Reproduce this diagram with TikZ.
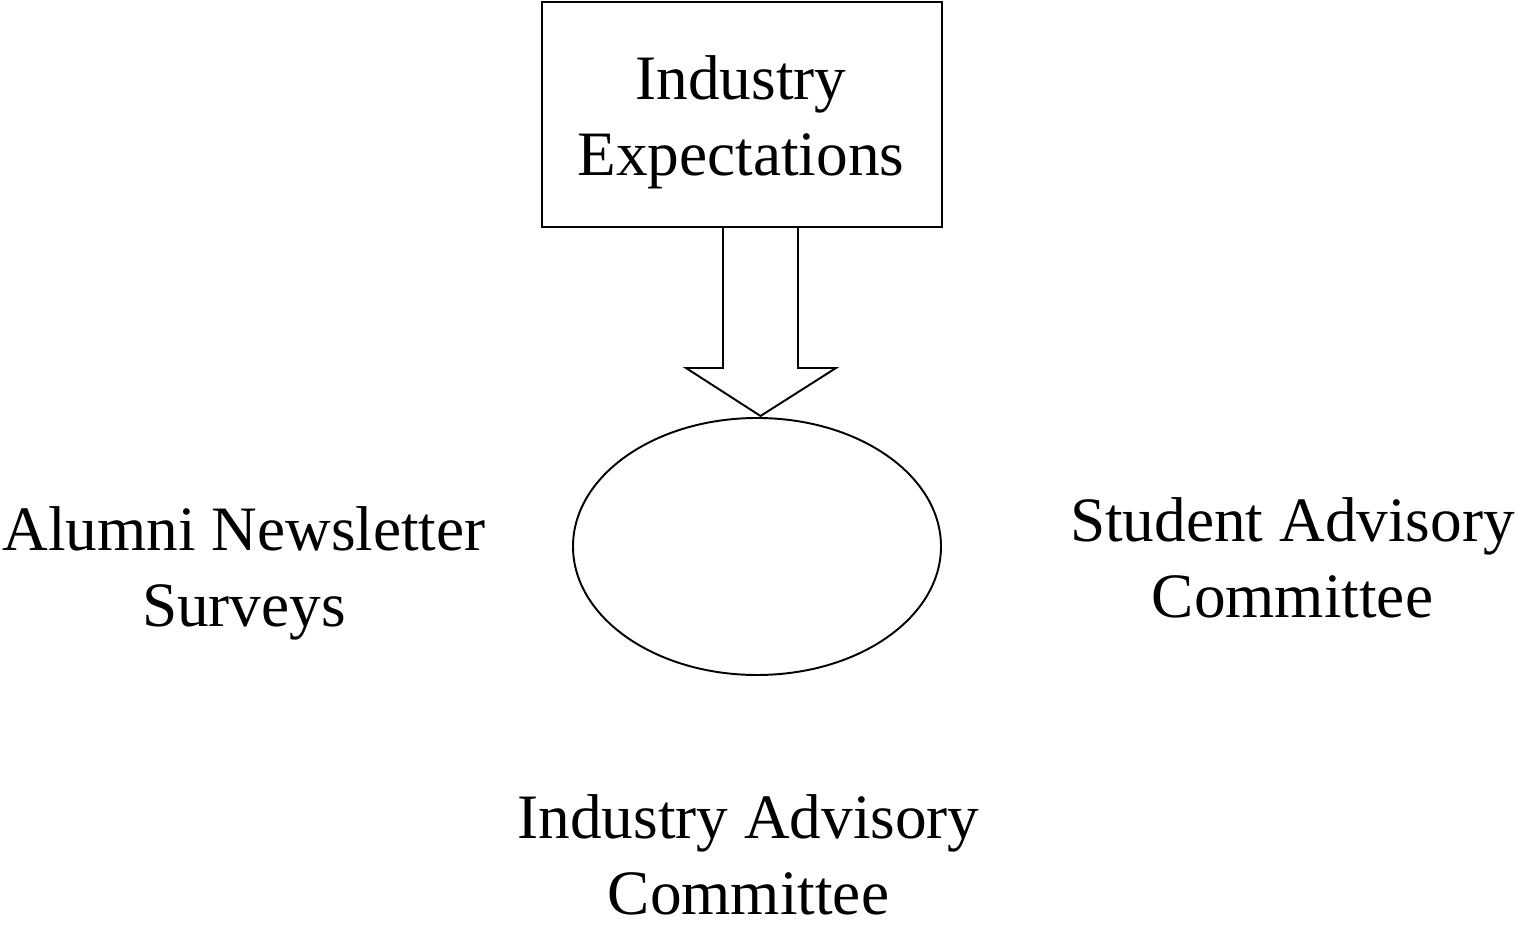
\documentclass[tikz,border=0pt]{standalone}
\usepackage{fontspec}
\setmainfont{Liberation Serif}
\usetikzlibrary{shapes.geometric}

\begin{document}
\begin{tikzpicture}[line width=1.1pt]
    \tikzstyle{every node}=[font=\fontsize{36}{43.5}\selectfont, align=center]
    \useasboundingbox (0,0) rectangle (30.36,18.5);

    % Top box (Industry Expectations)
    \node[draw, minimum width=8cm, minimum height=4.5cm] (expect) at (14.84,16.21) {};
    \node[anchor=base] (expecttext) at (14.82,14.98) {Industry\\Expectations};

    % Centre ellipse
    \node[draw, ellipse, minimum width=7.36cm, minimum height=5.14cm, inner sep=0pt] (hub) at (15.14,7.57) {};

    % Block arrow (box to ellipse)
    \draw (14.46,13.96) -- (14.46,11.14) -- (13.72,11.14) -- (15.21,10.18)
        -- (16.72,11.14) -- (15.96,11.14) -- (15.96,13.96);

    % Side and bottom labels
    \node[anchor=base, inner sep=0pt] (alumni) at (4.88,5.96) {Alumni Newsletter\\Surveys};
    \node[anchor=base, inner sep=0pt] (student) at (25.85,6.14) {Student Advisory\\Committee};
    \node[anchor=base, inner sep=0pt] (iac) at (14.97,0.2) {Industry Advisory\\Committee};

\end{tikzpicture}
\end{document}
